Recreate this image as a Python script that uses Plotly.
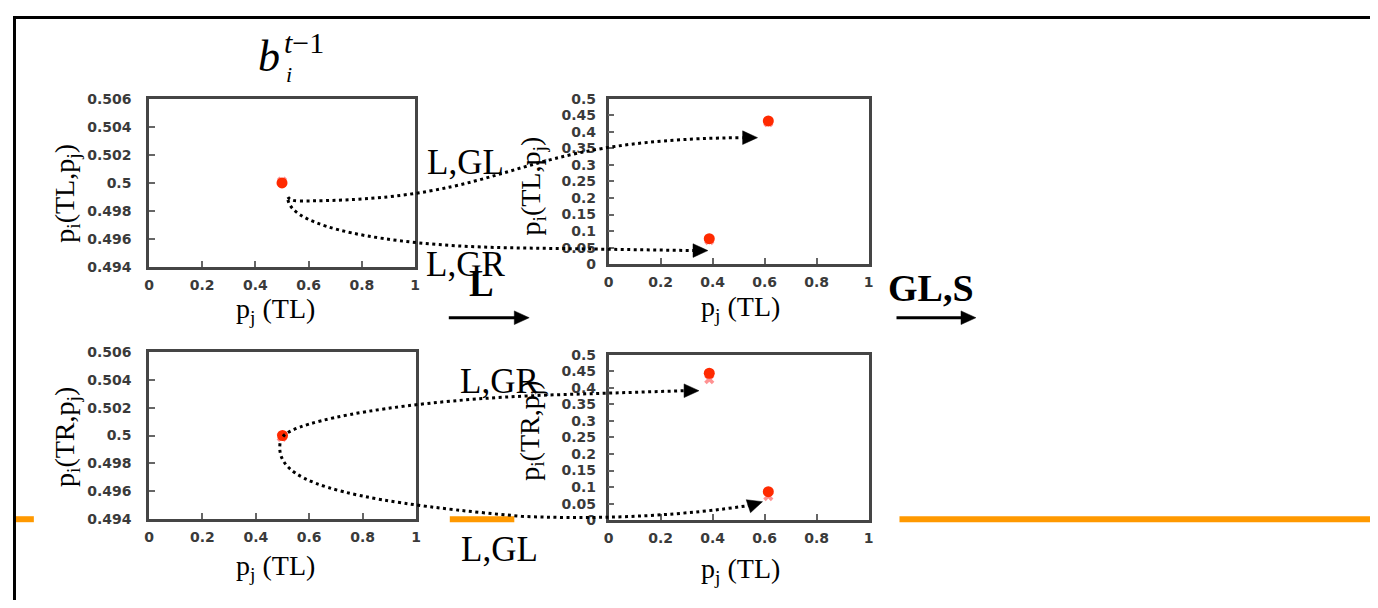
import math
import plotly.graph_objects as go

# screen size and the page's default body offset
SW, SH = 1378, 608
OX, OY = 8, 8
W, H = SW - OX, SH - OY

# ---------------- data ----------------
x_tick_vals = [0, 0.2, 0.4, 0.6, 0.8, 1]
x_tick_text = ["0", "0.2", "0.4", "0.6", "0.8", "1"]
left_y_vals = [0.494, 0.496, 0.498, 0.5, 0.502, 0.504, 0.506]
left_y_text = ["0.494", "0.496", "0.498", "0.5", "0.502", "0.504", "0.506"]
right_y_vals = [0, 0.05, 0.1, 0.15, 0.2, 0.25, 0.3, 0.35, 0.4, 0.45, 0.5]
right_y_text = ["0", "0.05", "0.1", "0.15", "0.2", "0.25", "0.3", "0.35", "0.4", "0.45", "0.5"]

# panel 1: p_i(TL,p_j) at t-1
p1_dot_x = [0.5]
p1_dot_y = [0.5]
p1_cross_x = [0.5]
p1_cross_y = [0.5001]
# panel 2: p_i(TL,p_j) after L
p2_dot_x = [0.614, 0.387]
p2_dot_y = [0.433, 0.077]
p2_cross_x = [0.614, 0.387]
p2_cross_y = [0.429, 0.073]
# panel 3: p_i(TR,p_j) at t-1
p3_dot_x = [0.5]
p3_dot_y = [0.5]
p3_cross_x = [0.497]
p3_cross_y = [0.4999]
# panel 4: p_i(TR,p_j) after L
p4_dot_x = [0.387, 0.614]
p4_dot_y = [0.444, 0.086]
p4_cross_x = [0.387, 0.614]
p4_cross_y = [0.426, 0.073]

# ---------------- layout helpers ----------------
# screen-pixel boxes (left, right, top, bottom) of the four plot areas
boxes = {
    1: (145, 413, 93, 266),
    2: (608, 870, 93, 263),
    3: (145, 414, 353, 525),
    4: (608, 870, 356, 526),
}

def dom(b):
    l, r, t, bt = b
    return [(l - OX) / W, (r - OX) / W], [1 - (bt - OY) / H, 1 - (t - OY) / H]

RED = "#ff2a00"
PINK = "rgba(255,110,110,0.75)"
AXC = "#454545"
TICKFONT = dict(family="DejaVu Sans", size=14, color="#3a3a3a", weight="bold")
SERIF = "Liberation Serif"

fig = go.Figure()

panels = [
    (1, p1_dot_x, p1_dot_y, p1_cross_x, p1_cross_y, "left"),
    (2, p2_dot_x, p2_dot_y, p2_cross_x, p2_cross_y, "right"),
    (3, p3_dot_x, p3_dot_y, p3_cross_x, p3_cross_y, "left"),
    (4, p4_dot_x, p4_dot_y, p4_cross_x, p4_cross_y, "right"),
]

for k, dx, dy, cx, cy, kind in panels:
    xa = "x" if k == 1 else f"x{k}"
    ya = "y" if k == 1 else f"y{k}"
    fig.add_trace(go.Scatter(x=cx, y=cy, xaxis=xa, yaxis=ya, mode="markers",
                             marker=dict(symbol="x", size=9, color=PINK,
                                         line=dict(width=0)),
                             showlegend=False, hoverinfo="skip"))
    fig.add_trace(go.Scatter(x=dx, y=dy, xaxis=xa, yaxis=ya, mode="markers",
                             marker=dict(symbol="circle", size=11, color=RED),
                             showlegend=False))
    xd, yd = dom(boxes[k])
    xkey = "xaxis" if k == 1 else f"xaxis{k}"
    ykey = "yaxis" if k == 1 else f"yaxis{k}"
    common = dict(showline=True, mirror=True, linecolor=AXC, linewidth=2.5,
                  ticks="inside", ticklen=6, tickwidth=2, tickcolor="#666666",
                  showgrid=False, zeroline=False, tickfont=TICKFONT,
                  fixedrange=True)
    fig.layout[xkey] = dict(domain=xd, anchor=ya, range=[0, 1],
                            tickvals=x_tick_vals, ticktext=x_tick_text,
                            ticklabelstandoff=3, **common)
    if kind == "left":
        fig.layout[ykey] = dict(domain=yd, anchor=xa, range=[0.494, 0.506],
                                tickvals=left_y_vals, ticktext=left_y_text,
                                ticklabelstandoff=12, **common)
    else:
        fig.layout[ykey] = dict(domain=yd, anchor=xa, range=[0, 0.5],
                                tickvals=right_y_vals, ticktext=right_y_text,
                                ticklabelstandoff=7, **common)

# overlay axes in screen pixels for the diagram decorations
fig.add_trace(go.Scatter(x=[OX], y=[OY], xaxis="x5", yaxis="y5", mode="markers",
                         marker=dict(size=1, color="rgba(0,0,0,0)"),
                         showlegend=False, hoverinfo="skip"))
fig.layout["xaxis5"] = dict(domain=[0, 1], range=[OX, SW], visible=False,
                            anchor="y5", fixedrange=True)
fig.layout["yaxis5"] = dict(domain=[0, 1], range=[SH, OY], visible=False,
                            anchor="x5", fixedrange=True)

shapes = []
# orange rule
for x0, x1 in [(OX, 29), (448, 513), (901, SW)]:
    shapes.append(dict(type="line", xref="x5", yref="y5", x0=x0, x1=x1,
                       y0=525, y1=525, line=dict(color="#ff9900", width=6),
                       layer="below"))
# black frame
shapes.append(dict(type="line", xref="x5", yref="y5", x0=OX, x1=SW, y0=9.5, y1=9.5,
                   line=dict(color="black", width=3)))
shapes.append(dict(type="line", xref="x5", yref="y5", x0=9.5, x1=9.5, y0=OY, y1=SH,
                   line=dict(color="black", width=3)))

# dotted curved transitions
curves = [
    "M285,194 Q287,198 296,198 C520,198 500,135 743,133",
    "M285,197 C290,225 380,243 500,246 L693,249",
    "M280,440 C292,424 400,402 560,397 L684,393",
    "M277,447 C272,485 330,505 520,522 C610,526 690,520 749,511",
]
for p in curves:
    shapes.append(dict(type="path", xref="x5", yref="y5", path=p,
                       line=dict(color="black", width=3, dash="3px,3.5px")))

def tri(tx, ty, ang, length=15, half=7):
    a = math.radians(ang)
    dx, dy = math.cos(a), math.sin(a)
    bx, by = tx - length * dx, ty - length * dy
    nx, ny = -dy, dx
    return (f"M{tx:.1f},{ty:.1f} L{bx + half * nx:.1f},{by + half * ny:.1f} "
            f"L{bx - half * nx:.1f},{by - half * ny:.1f} Z")

heads = [(758, 133, 0), (708, 249, 0), (699, 393, 0), (763, 507, -18),
         (528, 318, 0), (978, 318, 0)]
for tx, ty, ang in heads:
    shapes.append(dict(type="path", xref="x5", yref="y5", path=tri(tx, ty, ang),
                       fillcolor="black", line=dict(color="black", width=0.5)))
# straight arrow shafts
for x0, x1 in [(447, 514), (898, 964)]:
    shapes.append(dict(type="line", xref="x5", yref="y5", x0=x0, x1=x1,
                       y0=318, y1=318, line=dict(color="black", width=3)))

fig.update_layout(shapes=shapes)

ann = []
def txt(x, y, s, size, bold=False, angle=0, family=SERIF, xanchor="center"):
    ann.append(dict(xref="x5", yref="y5", x=x, y=y, text=s, showarrow=False,
                    textangle=angle, xanchor=xanchor, yanchor="middle",
                    font=dict(family=family, size=size, color="black",
                              weight="bold" if bold else "normal")))

# title b_i^{t-1}
txt(266, 50, "<i>b</i>", 44)
txt(279, 35, "<i>t</i>−1", 30, xanchor="left")
txt(281, 68, "<i>i</i>", 22, xanchor="left")

# axis titles
txt(272, 311, "p<sub>j</sub> (TL)", 28)
txt(741, 309, "p<sub>j</sub> (TL)", 28)
txt(272, 575, "p<sub>j</sub> (TL)", 28)
txt(741, 578, "p<sub>j</sub> (TL)", 28)
txt(62, 190, "p<sub>i</sub>(TL,p<sub>j</sub>)", 28, angle=-90)
txt(531, 183, "p<sub>i</sub>(TL,p<sub>j</sub>)", 28, angle=-90)
txt(62, 441, "p<sub>i</sub>(TR,p<sub>j</sub>)", 28, angle=-90)
txt(530, 434, "p<sub>i</sub>(TR,p<sub>j</sub>)", 28, angle=-90)

# transition labels
txt(464, 159, "L,GL", 35)
txt(464, 263, "L,GR", 35)
txt(480, 283, "L", 37, bold=True)
txt(933, 287, "GL,S", 38, bold=True)
txt(498, 383, "L,GR", 35)
txt(498, 556, "L,GL", 35)

fig.update_layout(annotations=ann, width=W, height=H,
                  margin=dict(l=0, r=0, t=0, b=0),
                  paper_bgcolor="white", plot_bgcolor="rgba(0,0,0,0)",
                  showlegend=False)

fig.write_html("out.html")
